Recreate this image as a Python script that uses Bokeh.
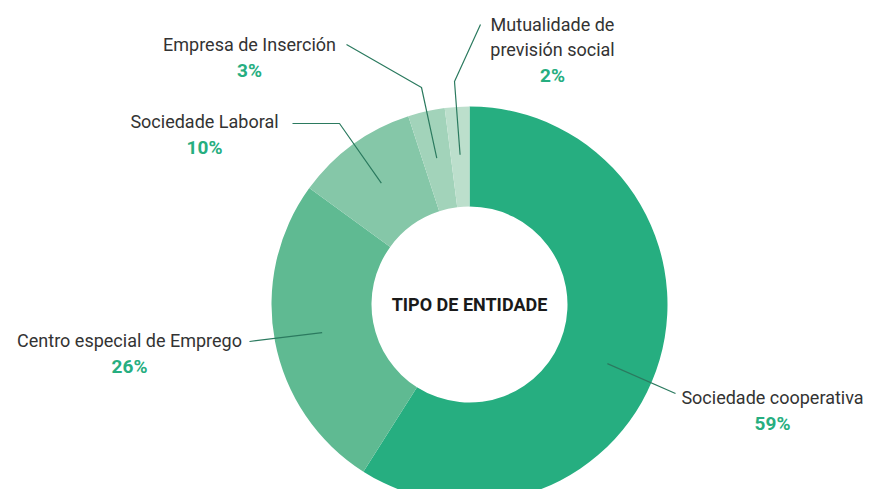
import math
from bokeh.plotting import figure
from bokeh.models import Range1d, ColumnDataSource
from bokeh.core.properties import value
from bokeh.embed import file_html
from bokeh.resources import INLINE

# ---- data ----
categories = ["Sociedade cooperativa", "Centro especial de Emprego", "Sociedade Laboral",
              "Empresa de Inserción", "Mutualidade de previsión social"]
label_lines = [["Sociedade cooperativa"], ["Centro especial de Emprego"], ["Sociedade Laboral"],
               ["Empresa de Inserción"], ["Mutualidade de", "previsión social"]]
values = [59, 26, 10, 3, 2]
pct_labels = ["59%", "26%", "10%", "3%", "2%"]
colors = ["#26ae80", "#5fba92", "#85c7a8", "#a2d3ba", "#bcdfcc"]
center_title = "TIPO DE ENTIDADE"

# ---- layout (picture pixel coordinates) ----
W, H = 866, 489
def X(px): return px
def Y(py): return 497 - py

CX, CY = 469, 304
R_OUT, R_IN, R_ANCHOR = 198, 98, 150
anchor_shift = [7, 0, 0, 0, 0]          # degrees
# elbow / end points of leader lines
leader_pts = [[(675, 393)], [(249, 341)], [(339, 123), (292, 123)],
              [(421, 87), (346, 44)], [(454, 81), (480, 24)]]
label_pos = [(772, 397), (129, 340), (204, 121), (249, 44), (552, 24)]
LINE_H = 25

FONT = "Roboto"

p = figure(width=W, height=H, output_backend="svg", toolbar_location=None,
           x_range=Range1d(0, W), y_range=Range1d(497 - H, 497), min_border=0)
p.axis.visible = False
p.grid.visible = False
p.outline_line_color = None

total = sum(values)
starts, ends, mids = [], [], []
cum = 0
for v in values:
    a0 = math.pi / 2 - 2 * math.pi * cum / total
    cum += v
    a1 = math.pi / 2 - 2 * math.pi * cum / total
    starts.append(a0); ends.append(a1); mids.append((a0 + a1) / 2)

src = ColumnDataSource(dict(start=starts, end=ends, color=colors, cat=categories))
p.annular_wedge(x=X(CX), y=Y(CY), inner_radius=R_IN, outer_radius=R_OUT,
                start_angle="start", end_angle="end", direction="clock",
                fill_color="color", line_color=None, source=src)

# leader lines
xs, ys = [], []
for i, m in enumerate(mids):
    a = m - math.radians(anchor_shift[i])
    ax = X(CX) + R_ANCHOR * math.cos(a)
    ay = Y(CY) + R_ANCHOR * math.sin(a)
    lx = [ax] + [X(px) for px, py in leader_pts[i]]
    ly = [ay] + [Y(py) for px, py in leader_pts[i]]
    xs.append(lx); ys.append(ly)
p.multi_line(xs=xs, ys=ys, line_color="#2b7a5f", line_width=1.2)

# labels
tx, ty, tt = [], [], []
px_, py_, pt = [], [], []
for i, lines in enumerate(label_lines):
    lx, ly = label_pos[i]
    for k, s in enumerate(lines):
        tx.append(X(lx)); ty.append(Y(ly + k * LINE_H)); tt.append(s)
    px_.append(X(lx)); py_.append(Y(ly + len(lines) * LINE_H + 1)); pt.append(pct_labels[i])

p.text(x=tx, y=ty, text=tt, text_font=value(FONT), text_font_size="18px",
       text_color="#333333", text_align="center", text_baseline="middle")
p.text(x=px_, y=py_, text=pt, text_font=value(FONT), text_font_size="19px",
       text_font_style="bold", text_color="#26ae80", text_align="center",
       text_baseline="middle")
p.text(x=[X(CX)], y=[Y(CY)], text=[center_title], text_font=value(FONT),
       text_font_size="18px", text_font_style="bold", text_color="#1a1a1a",
       text_align="center", text_baseline="middle")

open("out.html", "w").write(file_html(p, INLINE))
